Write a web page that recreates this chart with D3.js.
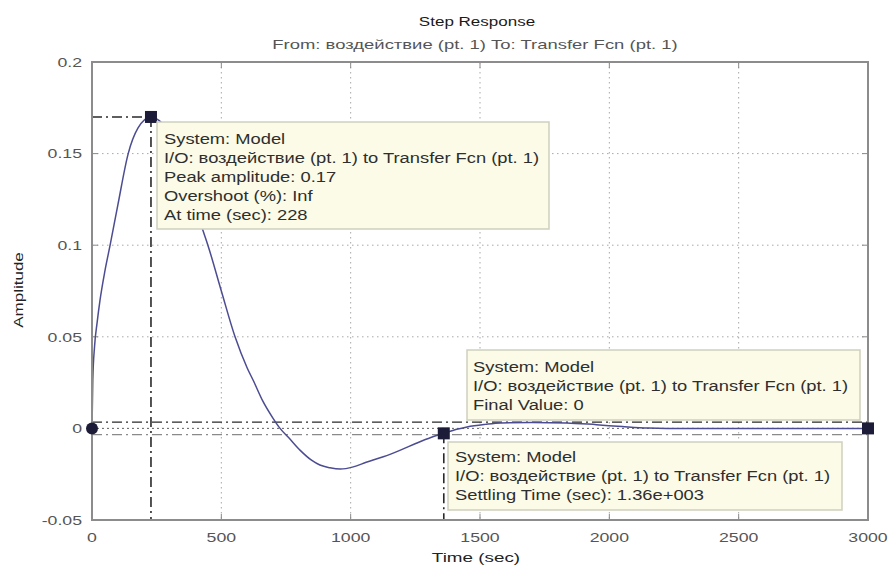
<!DOCTYPE html>
<html>
<head>
<meta charset="utf-8">
<script src="https://cdn.jsdelivr.net/npm/d3@7"></script>
<style>
  html, body { margin: 0; padding: 0; background: #ffffff; }
  svg { display: block; }
  text { font-family: "Liberation Sans", Arial, sans-serif; }
</style>
</head>
<body>
<svg id="chart" width="888" height="565"></svg>
<script>
// Step response samples: time (s) and amplitude
const timeSec = [0, 3, 10, 20, 31, 50, 70, 100, 140, 178, 228, 260, 300, 340, 380, 429, 448, 500, 553, 600, 624, 660, 700, 727, 760, 805, 850, 881, 920, 960, 1010, 1060, 1126, 1190, 1256, 1310, 1360, 1410, 1450, 1520, 1580, 1700, 1835, 1950, 2050, 2150, 2300, 2500, 2750, 3000];
const amplitude = [0, 0.026, 0.045, 0.058, 0.070, 0.086, 0.100, 0.122, 0.150, 0.164, 0.170, 0.168, 0.161, 0.147, 0.130, 0.108, 0.100, 0.075, 0.050, 0.033, 0.026, 0.015, 0.0055, 0.0, -0.005, -0.012, -0.0175, -0.020, -0.0215, -0.0222, -0.021, -0.0185, -0.0155, -0.012, -0.008, -0.005, -0.0027, -0.0005, 0.0008, 0.0022, 0.003, 0.0032, 0.003, 0.002, 0.001, 0.0002, -0.0001, 0, 0, 0];

// Axis ticks
const xTicks = [0, 500, 1000, 1500, 2000, 2500, 3000];
const yTicks = [-0.05, 0, 0.05, 0.1, 0.15, 0.2];
const yTickLabels = ["-0.05", "0", "0.05", "0.1", "0.15", "0.2"];

// Response characteristics
const peakTime = 228;
const peakAmplitude = 0.17;
const settlingTime = 1360;
const settlingValue = -0.0027;
const finalValue = 0;
const settlingBand = 0.0034;
const endTime = 3000;

// Data tips
const titleText = "Step Response";
const subtitleText = "From: воздействие (pt. 1)  To: Transfer Fcn (pt. 1)";
const xLabel = "Time (sec)";
const yLabel = "Amplitude";
const peakTip = ["System: Model", "I/O: воздействие (pt. 1) to Transfer Fcn (pt. 1)", "Peak amplitude: 0.17", "Overshoot (%): Inf", "At time (sec): 228"];
const finalTip = ["System: Model", "I/O: воздействие (pt. 1) to Transfer Fcn (pt. 1)", "Final Value: 0"];
const settleTip = ["System: Model", "I/O: воздействие (pt. 1) to Transfer Fcn (pt. 1)", "Settling Time (sec): 1.36e+003"];

const svg = d3.select("#chart");
const m = { left: 92, right: 868, top: 62, bottom: 520 };
const x = d3.scaleLinear().domain([0, 3000]).range([m.left, m.right]);
const y = d3.scaleLinear().domain([-0.05, 0.2]).range([m.bottom, m.top]);

const SX = 1.31; // horizontal stretch of all lettering

function label(parent, px, py, str, o = {}) {
  const g = parent.append("g").attr("transform", `translate(${px},${py}) ${o.rotate ? "rotate(" + o.rotate + ")" : ""} scale(${o.sx || SX},1)`);
  g.append("text")
    .attr("text-anchor", o.anchor || "start")
    .attr("dominant-baseline", "central")
    .attr("font-size", o.size || 14)
    .attr("fill", o.color || "#333")
    .attr("font-weight", o.weight || "normal")
    .text(str);
  return g;
}

// Grid
const grid = svg.append("g");
grid.selectAll(".gx").data(xTicks.slice(1, -1)).join("line")
  .attr("x1", d => x(d)).attr("x2", d => x(d))
  .attr("y1", m.top).attr("y2", m.bottom)
  .attr("stroke", "#a8a8a8").attr("stroke-width", 1).attr("stroke-dasharray", "1.5,3.5");
grid.selectAll(".gy").data(yTicks.slice(1, -1)).join("line")
  .attr("x1", m.left).attr("x2", m.right)
  .attr("y1", d => y(d)).attr("y2", d => y(d))
  .attr("stroke", "#a8a8a8").attr("stroke-width", 1).attr("stroke-dasharray", "1.5,3.5");

// Tick marks on all four sides
const tk = svg.append("g").attr("stroke", "#8a8a8a").attr("stroke-width", 1);
xTicks.forEach(t => {
  tk.append("line").attr("x1", x(t)).attr("x2", x(t)).attr("y1", m.bottom).attr("y2", m.bottom - 6);
  tk.append("line").attr("x1", x(t)).attr("x2", x(t)).attr("y1", m.top).attr("y2", m.top + 6);
});
yTicks.forEach(t => {
  tk.append("line").attr("x1", m.left).attr("x2", m.left + 6).attr("y1", y(t)).attr("y2", y(t));
  tk.append("line").attr("x1", m.right).attr("x2", m.right - 6).attr("y1", y(t)).attr("y2", y(t));
});

// Settling band and final value lines
const ref = svg.append("g").attr("fill", "none");
ref.append("line").attr("x1", m.left).attr("x2", m.right)
  .attr("y1", y(settlingBand)).attr("y2", y(settlingBand))
  .attr("stroke", "#2a2a2a").attr("stroke-width", 1.4).attr("stroke-dasharray", "10,4,2,4");
ref.append("line").attr("x1", m.left).attr("x2", m.right)
  .attr("y1", y(-settlingBand)).attr("y2", y(-settlingBand))
  .attr("stroke", "#8a8a8a").attr("stroke-width", 1.4).attr("stroke-dasharray", "10,4,2,4");
ref.append("line").attr("x1", m.left).attr("x2", m.right)
  .attr("y1", y(finalValue)).attr("y2", y(finalValue))
  .attr("stroke", "#6a6a6a").attr("stroke-width", 1).attr("stroke-dasharray", "2,3");

// Peak and settling guides
ref.append("line").attr("x1", m.left).attr("x2", x(peakTime))
  .attr("y1", y(peakAmplitude)).attr("y2", y(peakAmplitude))
  .attr("stroke", "#2a2a2a").attr("stroke-width", 1.4).attr("stroke-dasharray", "10,4,2,4");
ref.append("line").attr("x1", x(peakTime)).attr("x2", x(peakTime))
  .attr("y1", y(peakAmplitude)).attr("y2", m.bottom)
  .attr("stroke", "#2a2a2a").attr("stroke-width", 1.6).attr("stroke-dasharray", "10,4,2,4");
ref.append("line").attr("x1", x(settlingTime)).attr("x2", x(settlingTime))
  .attr("y1", y(settlingValue)).attr("y2", m.bottom)
  .attr("stroke", "#2a2a2a").attr("stroke-width", 1.6).attr("stroke-dasharray", "10,4,2,4");

// Response curve
const line = d3.line().x((d, i) => x(timeSec[i])).y(d => y(d)).curve(d3.curveMonotoneX);
svg.append("path").datum(amplitude)
  .attr("d", line).attr("fill", "none")
  .attr("stroke", "#4c4c92").attr("stroke-width", 1.5);

// Frame
svg.append("rect").attr("x", m.left).attr("y", m.top)
  .attr("width", m.right - m.left).attr("height", m.bottom - m.top)
  .attr("fill", "none").attr("stroke", "#8c8c8c").attr("stroke-width", 2);

// Markers
const mk = "#1c1c38";
svg.append("circle").attr("cx", x(0)).attr("cy", y(0)).attr("r", 6).attr("fill", mk);
[[peakTime, peakAmplitude], [settlingTime, settlingValue], [endTime, finalValue]].forEach(([t, v]) => {
  svg.append("rect").attr("x", x(t) - 6).attr("y", y(v) - 6).attr("width", 12).attr("height", 12).attr("fill", mk);
});

// Data tip boxes
function tip(bx, by, bw, bh, lines, tx, ty0) {
  const g = svg.append("g");
  g.append("rect").attr("x", bx).attr("y", by).attr("width", bw).attr("height", bh)
    .attr("fill", "#fbfbe7").attr("stroke", "#cfcfbf").attr("stroke-width", 1.5);
  lines.forEach((s, i) => label(g, tx, ty0 + i * 18.9, s, { size: 14, color: "#2e2e2e" }));
}
tip(157, 122, 392, 107, peakTip, 164, 139);
tip(467, 350, 393, 70, finalTip, 473, 367);
tip(448, 442, 394, 68, settleTip, 455, 457);

// Tick labels
xTicks.forEach(t => label(svg, x(t), 537, String(t), { anchor: "middle", size: 13.5, color: "#555" }));
yTicks.forEach((t, i) => label(svg, 82, y(t), yTickLabels[i], { anchor: "end", size: 13.5, color: "#555" }));

// Titles
label(svg, 477, 21, titleText, { anchor: "middle", size: 13, color: "#1a1a1a" });
label(svg, 475, 45, subtitleText, { anchor: "middle", size: 13, color: "#555", sx: 1.42 });
label(svg, 476, 557, xLabel, { anchor: "middle", size: 13, color: "#222", sx: 1.45 });
label(svg, 18, 290, yLabel, { anchor: "middle", size: 13, color: "#222", rotate: -90 });
</script>
</body>
</html>
